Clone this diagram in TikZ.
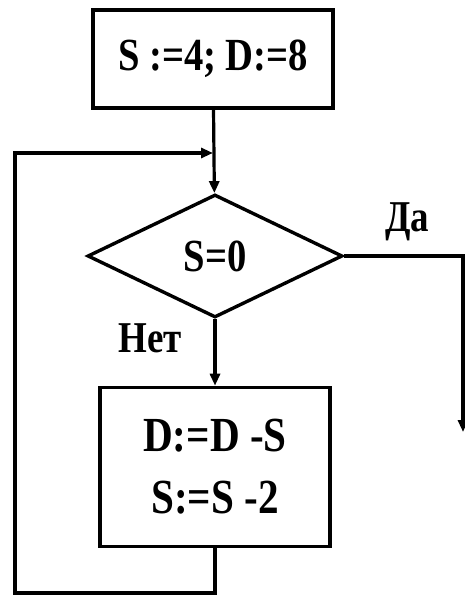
\documentclass[tikz,border=0pt]{standalone}
\usepackage{fontspec}
\setmainfont[FakeStretch=0.84]{Liberation Serif}
\usetikzlibrary{positioning, arrows.meta, shapes.geometric}

\begin{document}
\begin{tikzpicture}[
  x=1pt, y=-1pt,
  font=\fontsize{46}{58}\selectfont\bfseries,
  procbox/.style={draw, rectangle, line width=3.6pt, inner sep=0pt, align=center},
  decision/.style={draw, diamond, line width=3.4pt, inner sep=0pt,
    minimum width=255pt, minimum height=123pt},
  flow/.style={line width=3.2pt, -{Triangle[length=12pt,width=10pt]}},
  branch/.style={font=\fontsize{44}{50}\selectfont\bfseries},
]
\useasboundingbox (0,0) rectangle (465,596);

% ---- blocks ----
\node[procbox, minimum width=240pt, minimum height=98pt] (init) at (213,59) {S :=4; D:=8};
\node[decision] (cond) at (215,256) {S=0};
\node[procbox, minimum width=230pt, minimum height=159pt,
  font=\fontsize{49}{62}\selectfont\bfseries] (body) at (215,467)
  {D:=D -S\\S:=S -2};

% ---- connectors ----
\coordinate (join) at (213,153);
\coordinate (loopcorner) at (15,593);
\coordinate (exit) at (463,432);
\draw[flow] (init) -- (cond);
\draw[flow] (cond) -- (body);
\draw[flow] (body.south) |- (loopcorner) |- (join);
\draw[flow] (cond.east) -| (exit);

% ---- branch labels ----
\node[branch] (yes) at (407,222) {Да};
\node[branch] (no) at (150,338) {Нет};

\end{tikzpicture}
\end{document}
